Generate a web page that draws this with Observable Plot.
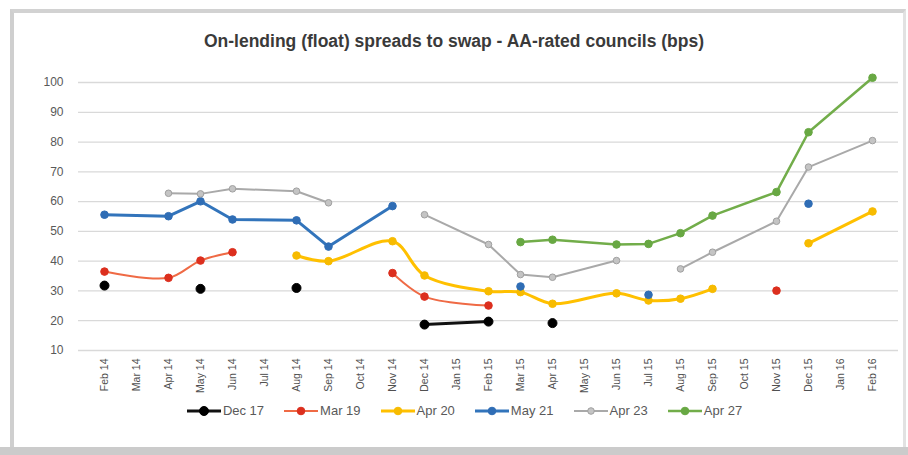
<!DOCTYPE html>
<html><head><meta charset="utf-8">
<script src="https://cdn.jsdelivr.net/npm/d3@7"></script>
<script src="https://cdn.jsdelivr.net/npm/@observablehq/plot@0.6"></script>
<style>
body{margin:0;background:#fff;font-family:"Liberation Sans",Arial,sans-serif;}
#wrap{position:relative;width:908px;height:455px;overflow:hidden;background:#fff;}
#frame{position:absolute;left:10px;top:9px;width:896px;height:438px;border-left:4px solid #cfcfcf;border-top:4px solid #d2d2d2;border-right:3px solid #e2e2e2;box-sizing:border-box;}
#band{position:absolute;left:0;top:447px;width:908px;height:8px;background:#cbcbcb;}
#title{position:absolute;left:0;width:908px;top:31px;text-align:center;font-weight:bold;font-size:17.5px;color:#3a3a3a;}
#chart{position:absolute;left:0;top:60px;}
#legend{position:absolute;top:403px;left:20px;width:888px;display:flex;justify-content:center;gap:19px;font-size:13px;color:#595959;line-height:16px;}
#legend .it{display:flex;align-items:center;}
#legend svg{margin-right:1px;}
</style></head>
<body>
<div id="wrap">
  <div id="frame"></div>
  <div id="band"></div>
  <div id="title">On-lending (float) spreads to swap - AA-rated councils (bps)</div>
  <div id="chart"></div>
  <div id="legend"></div>
</div>
<script>
const months = ["Feb 14","Mar 14","Apr 14","May 14","Jun 14","Jul 14","Aug 14","Sep 14","Oct 14","Nov 14","Dec 14","Jan 15","Feb 15","Mar 15","Apr 15","May 15","Jun 15","Jul 15","Aug 15","Sep 15","Oct 15","Nov 15","Dec 15","Jan 16","Feb 16"];
const yTicks = [10,20,30,40,50,60,70,80,90,100];

// [month, value, segment]
const dec17 = [["Feb 14",31.8,1],["May 14",30.7,2],["Aug 14",31.0,3],["Dec 14",18.7,4],["Feb 15",19.7,4],["Apr 15",19.2,5]];
const mar19 = [["Feb 14",36.5,1],["Apr 14",34.4,1],["May 14",40.2,1],["Jun 14",43.0,1],["Nov 14",36.0,2],["Dec 14",28.1,2],["Feb 15",25.1,2],["Nov 15",30.1,3]];
const apr20 = [["Aug 14",41.9,1],["Sep 14",40.0,1],["Nov 14",46.7,1],["Dec 14",35.2,1],["Feb 15",29.9,1],["Mar 15",29.6,1],["Apr 15",25.7,1],["Jun 15",29.2,1],["Jul 15",26.8,1],["Aug 15",27.4,1],["Sep 15",30.7,1],["Dec 15",46.0,2],["Feb 16",56.7,2]];
const may21 = [["Feb 14",55.6,1],["Apr 14",55.1,1],["May 14",60.1,1],["Jun 14",54.0,1],["Aug 14",53.7,1],["Sep 14",44.9,1],["Nov 14",58.5,1],["Mar 15",31.5,2],["Jul 15",28.7,3],["Dec 15",59.3,4]];
const apr23 = [["Apr 14",62.8,1],["May 14",62.6,1],["Jun 14",64.3,1],["Aug 14",63.5,1],["Sep 14",59.6,1],["Dec 14",55.6,2],["Feb 15",45.6,2],["Mar 15",35.5,2],["Apr 15",34.6,2],["Jun 15",40.2,2],["Aug 15",37.4,3],["Sep 15",43.0,3],["Nov 15",53.4,3],["Dec 15",71.6,3],["Feb 16",80.5,3]];
const apr27 = [["Mar 15",46.4,1],["Apr 15",47.2,1],["Jun 15",45.6,1],["Jul 15",45.8,1],["Aug 15",49.4,1],["Sep 15",55.3,1],["Nov 15",63.2,1],["Dec 15",83.3,1],["Feb 16",101.6,1]];

const seriesNames = ["Dec 17","Mar 19","Apr 20","May 21","Apr 23","Apr 27"];
const seriesData = [dec17, mar19, apr20, may21, apr23, apr27];
const lineColors = ["#111111","#ef6a45","#ffc000","#3274bb","#a9a9a9","#72ad4a"];
const dotColors  = ["#000000","#dc2f1e","#f7bb00","#2f6db5","#a0a0a0","#68a843"];
const dotFills   = ["#000000","#dc2f1e","#f7bb00","#2f6db5","#c4c4c4","#68a843"];
const widths = [3, 2, 3, 3, 2, 2.5];
const radii = [4.5, 3.8, 3.8, 3.8, 3.3, 3.8];
const curves = ["linear","catmull-rom","catmull-rom","linear","linear","linear"];

const marks = [
  Plot.gridY(yTicks, {stroke:"#d9d9d9", strokeOpacity:1, strokeWidth:1.3}),
  Plot.axisY(yTicks, {tickSize:0, tickPadding:15, fontSize:12, fill:"#595959", label:null}),
  Plot.axisX(months, {tickSize:0, tickPadding:8, tickRotate:-90, fontSize:10.5, fill:"#505050", label:null})
];
seriesNames.forEach((name, i) => {
  const rows = seriesData[i].map(([m, v, seg]) => ({m, v, seg: name + "-" + seg}));
  marks.push(Plot.line(rows, {x:"m", y:"v", z:"seg", stroke:lineColors[i], strokeWidth:widths[i], curve:curves[i], strokeLinejoin:"round"}));
  marks.push(Plot.dot(rows, {x:"m", y:"v", r:radii[i], fill:dotFills[i], stroke:dotColors[i], strokeWidth:1}));
});

const chart = Plot.plot({
  width: 908, height: 345,
  marginLeft: 78, marginRight: 10, marginTop: 22, marginBottom: 55,
  style: {fontFamily:'"Liberation Sans", Arial, sans-serif', background:"transparent"},
  x: {type:"point", domain: months, padding: 0.5},
  y: {domain:[10,100]},
  marks
});
document.getElementById("chart").appendChild(chart);

const legend = document.getElementById("legend");
seriesNames.forEach((name, i) => {
  const it = document.createElement("div");
  it.className = "it";
  it.innerHTML = `<svg width="36" height="12"><line x1="1" y1="6" x2="35" y2="6" stroke="${lineColors[i]}" stroke-width="${widths[i]}"/><circle cx="18" cy="6" r="${radii[i]}" fill="${dotFills[i]}" stroke="${dotColors[i]}"/></svg><span>${name}</span>`;
  legend.appendChild(it);
});
</script>
</body></html>
